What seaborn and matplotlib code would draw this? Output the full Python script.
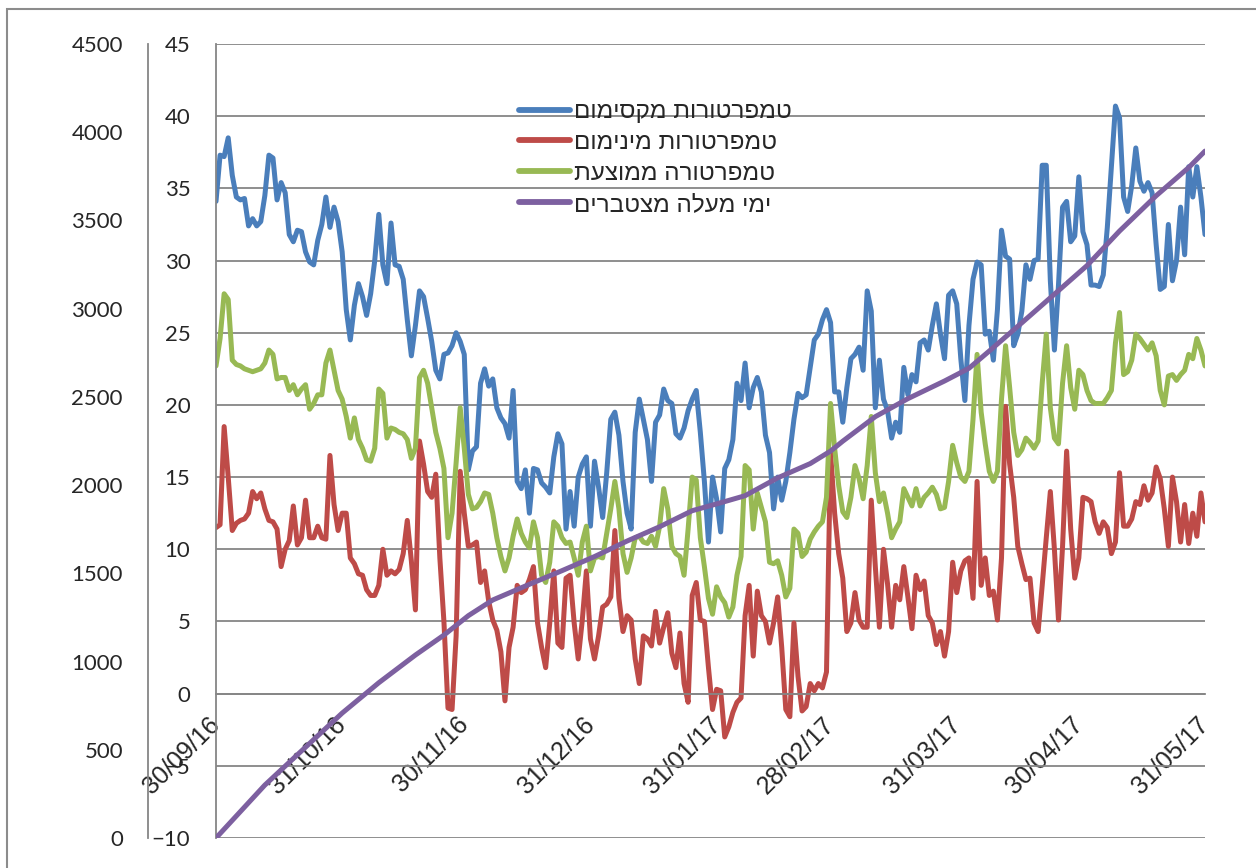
import numpy as np
import pandas as pd
import matplotlib
matplotlib.use("Agg")
import matplotlib.pyplot as plt
import matplotlib.patches as patches
from matplotlib.lines import Line2D
import seaborn as sns

# ---------------- data ----------------
start_date = "2016-09-30"
n_days = 244

max_t = [34.1, 37.3, 37.2, 38.5, 35.9, 34.4, 34.2, 34.3, 32.4, 32.9,
         32.4, 32.7, 34.5, 37.3, 37.1, 34.2, 35.4, 34.7, 31.8, 31.3,
         32.1, 32.0, 30.6, 29.9, 29.7, 31.4, 32.5, 34.4, 32.3, 33.7,
         32.7, 30.6, 26.6, 24.5, 26.9, 28.4, 27.5, 26.2, 27.7, 30.0,
         33.2, 29.7, 28.4, 32.6, 29.7, 29.6, 28.7, 25.9, 23.4, 25.5,
         27.9, 27.5, 26.0, 24.4, 22.4, 21.8, 23.5, 23.6, 24.1, 25.0,
         24.4, 23.5, 15.5, 16.8, 17.1, 21.5, 22.5, 21.3, 21.8, 19.8,
         19.1, 18.7, 17.7, 21.0, 14.7, 14.2, 15.5, 12.5, 15.6, 15.5,
         14.6, 14.3, 13.9, 16.4, 18.0, 17.3, 11.4, 14.0, 11.6, 15.0,
         15.9, 16.4, 11.6, 16.1, 14.3, 12.2, 15.3, 19.0, 19.5, 17.9,
         14.7, 12.5, 11.4, 18.1, 20.4, 19.0, 17.6, 14.7, 18.8, 19.3,
         21.1, 20.3, 20.1, 18.0, 17.7, 18.4, 19.6, 20.4, 21.0, 18.1,
         14.7, 10.5, 15.0, 13.5, 11.2, 15.6, 16.2, 17.6, 21.5, 20.3,
         22.9, 19.8, 21.2, 21.9, 20.9, 17.9, 16.7, 12.8, 15.0, 13.4,
         14.7, 16.7, 19.0, 20.8, 20.5, 20.7, 22.6, 24.5, 24.9, 25.9,
         26.6, 25.7, 20.9, 20.9, 18.8, 21.2, 23.2, 23.5, 24.0, 22.4,
         27.9, 26.5, 19.8, 23.1, 20.4, 19.6, 17.7, 18.8, 18.1, 22.6,
         20.7, 22.1, 21.6, 24.3, 24.5, 23.8, 25.5, 27.0, 24.9, 23.2,
         27.6, 27.9, 27.0, 23.2, 20.3, 25.5, 28.7, 29.9, 29.7, 24.9,
         25.1, 23.1, 26.6, 32.1, 30.3, 30.1, 24.1, 24.9, 26.5, 29.7,
         28.7, 30.0, 30.1, 36.6, 36.6, 28.6, 23.8, 28.3, 33.7, 34.1,
         31.3, 31.7, 35.8, 32.0, 31.1, 28.3, 28.3, 28.2, 29.0, 32.3,
         36.5, 40.7, 39.9, 34.4, 33.4, 35.2, 37.8, 35.5, 34.8, 35.4,
         34.7, 31.1, 28.0, 28.2, 32.5, 28.6, 30.0, 33.7, 30.4, 36.5,
         34.4, 36.5, 34.4, 31.8]

min_t = [11.5, 11.7, 18.5, 15.0, 11.3, 11.8, 12.0, 12.1, 12.5, 14.0,
         13.5, 13.9, 12.8, 12.0, 11.9, 11.4, 8.8, 10.0, 10.6, 13.0,
         10.3, 10.8, 13.4, 10.8, 10.8, 11.6, 10.8, 10.7, 16.5, 13.1,
         11.3, 12.5, 12.5, 9.4, 9.0, 8.3, 8.2, 7.2, 6.8, 6.8,
         7.5, 10.0, 8.2, 8.5, 8.3, 8.6, 9.7, 12.0, 9.2, 5.8,
         17.5, 15.9, 14.0, 13.6, 15.2, 9.4, 5.0, -1.0, -1.1, 4.0,
         15.4, 12.5, 10.2, 10.3, 10.5, 7.7, 8.5, 6.4, 5.1, 4.4,
         2.9, -0.5, 3.2, 4.6, 7.5, 7.0, 7.2, 7.9, 8.8, 4.9,
         3.2, 1.8, 4.9, 8.5, 3.5, 3.2, 8.0, 8.2, 4.9, 2.4,
         5.1, 8.5, 3.8, 2.4, 4.0, 6.0, 6.2, 6.7, 11.3, 6.6,
         4.3, 5.4, 5.1, 2.4, 0.7, 4.0, 3.8, 3.3, 5.7, 3.5,
         4.6, 5.6, 2.8, 1.8, 4.2, 0.7, -0.6, 6.8, 7.7, 5.1,
         5.0, 1.8, -1.1, 0.3, 0.2, -3.0, -2.3, -1.3, -0.6, -0.3,
         5.4, 7.5, 2.6, 7.1, 5.4, 5.0, 3.5, 4.9, 6.7, 3.2,
         -1.1, -1.6, 4.9, 1.2, -1.2, -0.9, 0.7, 0.2, 0.7, 0.4,
         1.5, 16.7, 12.5, 9.7, 8.0, 4.3, 4.9, 7.0, 5.1, 4.6,
         4.6, 13.4, 8.8, 4.6, 10.0, 7.6, 4.6, 7.5, 6.5, 8.8,
         6.7, 4.5, 8.2, 7.2, 7.8, 5.4, 4.9, 3.4, 4.3, 2.6,
         4.3, 9.1, 7.0, 8.5, 9.2, 9.4, 6.6, 14.7, 7.5, 9.4,
         6.8, 7.1, 5.1, 9.4, 19.9, 15.9, 13.6, 10.2, 9.0, 7.9,
         8.0, 4.9, 4.3, 7.5, 10.8, 14.0, 10.0, 5.1, 10.2, 16.8,
         11.4, 8.0, 9.4, 13.6, 13.5, 13.3, 11.9, 11.1, 11.9, 11.5,
         9.7, 10.5, 15.3, 11.6, 11.6, 12.1, 13.3, 13.1, 14.4, 13.4,
         13.9, 15.7, 14.9, 12.8, 10.2, 15.0, 13.3, 10.5, 13.1, 10.4,
         12.5, 10.9, 13.9, 11.9]

avg_t = [22.7, 24.6, 27.7, 27.3, 23.1, 22.8, 22.7, 22.5, 22.4, 22.3,
         22.4, 22.5, 22.9, 23.8, 23.5, 21.8, 21.9, 21.9, 21.0, 21.4,
         20.7, 21.1, 21.4, 19.7, 20.1, 20.7, 20.7, 22.9, 23.8, 22.4,
         21.0, 20.4, 19.2, 17.7, 19.1, 17.6, 17.0, 16.2, 16.1, 17.0,
         21.1, 20.8, 17.7, 18.4, 18.3, 18.1, 18.0, 17.6, 16.3, 17.0,
         21.9, 22.4, 21.5, 19.8, 18.1, 17.0, 15.6, 10.8, 12.5, 16.0,
         19.8, 17.0, 13.8, 12.8, 12.9, 13.3, 13.9, 13.8, 12.5, 10.8,
         9.5, 8.5, 9.4, 10.9, 12.1, 11.1, 10.5, 10.1, 11.9, 10.8,
         8.2, 7.7, 9.1, 11.9, 11.6, 10.8, 10.4, 10.5, 9.4, 8.2,
         10.5, 11.6, 8.5, 9.4, 9.5, 9.4, 11.1, 12.8, 14.7, 12.8,
         9.7, 8.4, 9.4, 10.8, 10.9, 10.5, 10.4, 10.9, 10.2, 11.6,
         14.2, 12.8, 10.2, 9.7, 9.5, 8.2, 11.4, 15.0, 14.8, 10.8,
         8.8, 6.6, 5.5, 7.4, 6.7, 6.3, 5.3, 6.0, 8.2, 9.5,
         15.8, 15.5, 11.4, 13.9, 12.9, 11.9, 9.1, 9.0, 9.2, 8.2,
         6.7, 7.3, 11.4, 11.1, 9.5, 9.8, 10.7, 11.2, 11.6, 11.9,
         13.6, 20.1, 17.0, 14.4, 12.6, 12.2, 13.6, 15.8, 14.9, 13.5,
         15.8, 19.2, 15.3, 13.3, 13.9, 12.5, 10.8, 11.4, 11.9, 14.2,
         13.6, 13.0, 14.2, 13.0, 13.6, 13.9, 14.3, 13.8, 12.8, 12.9,
         14.7, 17.2, 16.0, 15.0, 14.7, 15.4, 19.0, 23.5, 19.5, 17.3,
         15.4, 14.7, 15.4, 20.4, 24.1, 21.2, 18.1, 16.5, 16.9, 17.7,
         17.4, 17.0, 17.5, 21.5, 24.9, 19.8, 17.7, 17.3, 21.5, 24.1,
         21.2, 19.7, 22.4, 22.1, 21.0, 20.3, 20.1, 20.1, 20.1, 20.5,
         21.0, 24.3, 26.4, 22.1, 22.3, 23.1, 24.9, 24.6, 24.2, 23.8,
         24.3, 23.4, 21.0, 20.0, 22.0, 22.1, 21.7, 22.1, 22.4, 23.5,
         23.2, 24.6, 23.8, 22.7]

# cumulative degree days, read at sample dates
cum_dates = ["2016-09-30", "2016-10-12", "2016-10-31", "2016-11-09", "2016-11-18",
             "2016-11-25", "2016-12-01", "2016-12-07", "2016-12-15", "2016-12-24",
             "2017-01-01", "2017-01-09", "2017-01-17", "2017-01-25", "2017-02-01",
             "2017-02-07", "2017-02-15", "2017-02-23", "2017-02-28", "2017-03-03",
             "2017-03-11", "2017-03-19", "2017-03-28", "2017-04-03", "2017-04-08",
             "2017-04-16", "2017-04-24", "2017-05-02", "2017-05-10", "2017-05-19",
             "2017-05-27", "2017-05-31"]
cum_vals = [0, 300, 708, 880, 1037, 1150, 1260, 1349, 1428, 1515,
            1595, 1683, 1764, 1855, 1900, 1940, 2041, 2122, 2193, 2249,
            2388, 2490, 2590, 2662, 2760, 2920, 3082, 3244, 3440, 3640,
            3800, 3893]

series_labels = ["טמפרטורות מקסימום", "טמפרטורות מינימום",
                 "טמפרטורה ממוצעת", "ימי מעלה מצטברים"]
xtick_dates = ["2016-09-30", "2016-10-31", "2016-11-30", "2016-12-31",
               "2017-01-31", "2017-02-28", "2017-03-31", "2017-04-30",
               "2017-05-31"]
xtick_labels = ["30/09/16", "31/10/16", "30/11/16", "31/12/16", "31/01/17",
                "28/02/17", "31/03/17", "30/04/17", "31/05/17"]
temp_ticks = list(range(-10, 50, 5))
cum_ticks = list(range(0, 5000, 500))

# ---------------- style ----------------
sns.set_style("white")
plt.rcParams["font.family"] = ["Lato", "DejaVu Sans"]

c_max = "#4A7EBB"
c_min = "#BE4B48"
c_avg = "#98B954"
c_cum = "#7D60A0"
grid_c = "#868686"
lw = 3.6

W, H = 1256, 868
fig = plt.figure(figsize=(W / 100, H / 100), dpi=100)
left, right, top, bottom = 216, 1205, 44, 838
pos = [left / W, 1 - bottom / H, (right - left) / W, (bottom - top) / H]
ax = fig.add_axes(pos)

dates = pd.date_range(start_date, periods=n_days, freq="D")
df = pd.DataFrame({"date": dates, "max": max_t, "min": min_t, "avg": avg_t})
cum_df = pd.DataFrame({"date": pd.to_datetime(cum_dates), "cum": cum_vals})

kw = dict(linewidth=lw, solid_joinstyle="round", solid_capstyle="round", legend=False)
sns.lineplot(data=df, x="date", y="max", ax=ax, color=c_max, **kw)
sns.lineplot(data=df, x="date", y="min", ax=ax, color=c_min, **kw)
sns.lineplot(data=df, x="date", y="avg", ax=ax, color=c_avg, **kw)

ax.set_ylim(-10, 45)
ax.set_xlim(pd.Timestamp(start_date), pd.Timestamp("2017-05-31"))
ax.set_yticks(temp_ticks)
ax.set_xlabel("")
ax.set_ylabel("")
ax.grid(axis="y", color=grid_c, linewidth=1.3)
ax.grid(axis="x", visible=False)
for s in ["top", "right"]:
    ax.spines[s].set_visible(False)
ax.spines["left"].set_color(grid_c)
ax.spines["left"].set_linewidth(1.3)
ax.spines["bottom"].set_position(("data", 0))
ax.spines["bottom"].set_color(grid_c)
ax.spines["bottom"].set_linewidth(1.3)
ax.set_xticks(pd.to_datetime(xtick_dates))
ax.set_xticklabels(xtick_labels, rotation=45, ha="right", va="center",
                   rotation_mode="anchor", fontfamily="Liberation Sans", fontsize=18)
ax.tick_params(axis="x", direction="out", length=6.5, width=1.3, color=grid_c, pad=13)
ax.tick_params(axis="y", direction="out", length=6.5, width=1.3, color=grid_c,
               pad=12, labelsize=16)
ax.set_axisbelow(True)

# secondary cumulative axis on the far left
ax2 = fig.add_axes(pos, sharex=ax)
ax2.patch.set_visible(False)
sns.lineplot(data=cum_df, x="date", y="cum", ax=ax2, color=c_cum, **kw)
ax2.set_ylim(0, 4500)
ax2.set_yticks(cum_ticks)
ax2.set_xlabel("")
ax2.set_ylabel("")
for s in ["top", "right", "bottom"]:
    ax2.spines[s].set_visible(False)
ax2.spines["left"].set_position(("outward", 68 * 0.72))
ax2.spines["left"].set_color(grid_c)
ax2.spines["left"].set_linewidth(1.3)
ax2.tick_params(axis="y", direction="out", length=6.0, width=1.3, color=grid_c,
                pad=12, labelsize=16)
ax2.tick_params(axis="x", bottom=False, labelbottom=False)
ax2.grid(False)

# legend
handles = [Line2D([], [], color=c, linewidth=4.2, solid_capstyle="round")
           for c in [c_max, c_min, c_avg, c_cum]]
leg = fig.legend(handles, [s[::-1] for s in series_labels],
                 loc="upper left", bbox_to_anchor=(519 / W, 1 - 101 / H),
                 frameon=False, borderpad=0, borderaxespad=0,
                 handlelength=2.1, handletextpad=0.15, labelspacing=0.365,
                 prop={"family": ["Liberation Sans", "DejaVu Sans"], "size": 17.5})

# chart-area border
fig.patches.append(patches.Rectangle((7 / W, -0.05), 1.2, (1 - 9 / H) + 0.05,
                                     transform=fig.transFigure, fill=False,
                                     edgecolor="#8C8C8C", linewidth=1.5))

fig.savefig("out.png", dpi=100)
